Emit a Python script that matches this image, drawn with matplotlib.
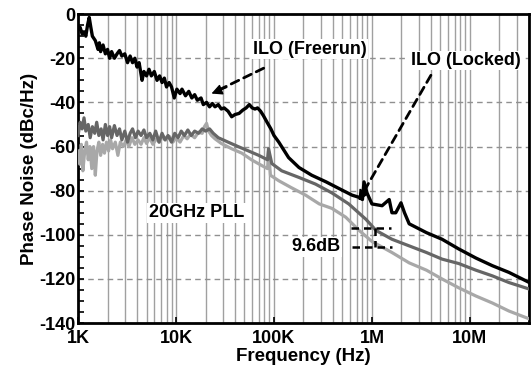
import matplotlib.pyplot as plt
from matplotlib.ticker import MultipleLocator, NullFormatter

plt.rcParams['font.family'] = ['Liberation Sans', 'DejaVu Sans']
plt.rcParams['font.weight'] = 'bold'
plt.rcParams['axes.unicode_minus'] = False

# ILO (Freerun) - black
ilo_f = [1000, 1050, 1100, 1150, 1200, 1250, 1300, 1350, 1400, 1500, 1600, 1650,
         1700, 1800, 1900, 2000, 2100, 2200, 2350, 2500, 2650, 2800, 3000, 3200,
         3400, 3600, 3800, 4000, 4200, 4500, 4700, 5000, 5300, 5600, 6000, 6400,
         6800, 7200, 7600, 8000, 8500, 9000, 9600, 10200, 11000, 11500, 12500,
         13500, 14500, 15500, 16500, 18000, 19000, 20500, 22000, 23500, 25000,
         27000, 29000, 31000, 34000, 37000, 40000, 44000, 48000, 52000, 56000,
         60000, 64000, 68000, 73000, 78000, 85000, 93000, 100e3, 112e3, 141e3,
         180e3, 243e3, 340e3, 460e3, 625e3, 740e3, 800e3, 830e3, 890e3, 1.0e6,
         1.27e6, 1.5e6, 1.6e6, 1.75e6, 1.98e6, 2.15e6, 2.4e6, 3.6e6, 5.2e6,
         7.7e6, 11.5e6, 17e6, 25e6, 40e6]
ilo_db = [-7, -6, -9, -8, -10, -5, -1.5, -6, -10, -12, -16, -13,
          -17, -14, -18, -16, -20, -17, -20, -18, -16.5, -19, -18, -22,
          -19, -22, -20, -24, -22, -30, -26, -28, -25, -28, -26, -30,
          -28, -31, -29, -33, -31, -33, -38, -34, -36, -34, -37,
          -35, -38, -36.5, -39, -38, -41, -40, -42, -40.5, -42,
          -41, -43, -42.5, -44, -46.5, -45.5, -45, -43.5, -42.5, -41,
          -42.5, -43, -42.5, -44, -46, -49, -52, -55, -58, -65,
          -69.5, -73, -76, -79, -82, -83, -84, -76, -81, -86,
          -86.8, -84, -90, -90, -85.5, -90, -95, -99, -102,
          -106.4, -110.5, -114, -117, -121.5]

# 20GHz PLL - dark gray
pll_f = [1000, 1050, 1100, 1150, 1200, 1270, 1330, 1400, 1480, 1550, 1630, 1720,
         1800, 1900, 2000, 2100, 2200, 2350, 2500, 2650, 2800, 3000, 3200, 3400,
         3600, 3850, 4100, 4400, 4700, 5000, 5400, 5800, 6200, 6700, 7200, 7700,
         8300, 9000, 9700, 10500, 11300, 12200, 13200, 14300, 15500, 17000, 18500,
         20000, 22000, 24000, 27000, 34000, 43000, 55000, 70000, 86000, 88000,
         95000, 120e3, 180e3, 265e3, 390e3, 580e3, 870e3, 1.1e6, 1.6e6, 2.4e6,
         3.6e6, 5.2e6, 7.7e6, 11.5e6, 17e6, 25e6, 40e6]
pll_db = [-55, -49, -52, -47, -53, -50, -56, -51, -54, -49, -55, -52,
          -57, -50, -55, -51, -56, -50.5, -55, -52, -57, -53, -58, -54,
          -52, -56, -53, -55, -52.5, -56, -54, -57, -53, -58, -54, -57,
          -55, -58, -54, -56, -53, -55, -52.5, -55, -53, -54, -52,
          -53, -52, -54, -56, -58, -60, -62, -64, -66, -61,
          -67.7, -71, -74, -77, -81, -86, -93, -98, -102, -105,
          -108, -111, -113, -116, -118.6, -121.6, -124.5]

# light gray curve
lg_f = [1000, 1040, 1080, 1120, 1170, 1220, 1270, 1320, 1380, 1440, 1500, 1560,
        1630, 1700, 1780, 1860, 1950, 2050, 2150, 2250, 2400, 2550, 2700, 2900,
        3100, 3300, 3550, 3800, 4100, 4400, 4700, 5000, 5400, 5800, 6300, 6800,
        7300, 7900, 8600, 9300, 10000, 11000, 12000, 13000, 14000, 15500, 17000,
        18500, 19500, 20500, 21500, 23000, 25000, 29000, 37000, 47000, 59000,
        75000, 86000, 88000, 92000, 112e3, 150e3, 210e3, 290e3, 390e3, 540e3,
        740e3, 1.0e6, 1.6e6, 2.4e6, 3.6e6, 5.2e6, 7.7e6, 11.5e6, 17e6, 25e6, 40e6]
lg_db = [-62, -68, -59, -71, -62, -58, -66, -60, -70, -60, -73, -62,
         -58, -64, -59, -63, -58, -62, -57, -61, -58, -64, -58, -60,
         -57, -60, -56, -59, -57, -59, -56, -58.6, -56, -59, -56.5, -58,
         -55, -57, -55.5, -58, -56, -58, -55, -56.5, -54.5, -56, -53.5,
         -54, -51, -49.5, -53, -55, -56.5, -58.6, -61, -63, -66,
         -68.6, -70, -62, -73, -75.5, -78.6, -82, -86, -88, -92,
         -98, -103, -108, -112.7, -116, -120, -124, -127.7, -130.9, -134.5, -138]

xticks = [1e3, 1e4, 1e5, 1e6, 1e7]
xticklabels = ['1K', '10K', '100K', '1M', '10M']
yticks = [0, -20, -40, -60, -80, -100, -120, -140]

fig = plt.figure(figsize=(5.31, 3.71), dpi=100)
ax = fig.add_axes([0.147, 0.129, 0.849, 0.833])

ax.plot(lg_f, lg_db, color='#a8a8a8', lw=2.3, zorder=3)
ax.plot(pll_f, pll_db, color='#666666', lw=2.3, zorder=4)
ax.plot(ilo_f, ilo_db, color='black', lw=2.4, zorder=5)

ax.set_xscale('log')
ax.set_xlim(1e3, 4e7)
ax.set_ylim(-140, 0)
ax.set_xticks(xticks)
ax.set_xticklabels(xticklabels)
ax.set_yticks(yticks)
ax.yaxis.set_minor_locator(MultipleLocator(5))
ax.xaxis.set_minor_formatter(NullFormatter())

ax.grid(True, which='both', axis='x', color='#a0a0a0', lw=1.0, ls='-')
ax.grid(True, which='major', axis='y', color='#909090', lw=1.0, ls=(0, (4, 3)))
ax.set_axisbelow(True)

for s in ax.spines.values():
    s.set_linewidth(2.0)
ax.tick_params(which='both', direction='in', length=4, width=1.2)
ax.tick_params(axis='x', which='minor', length=0)
ax.tick_params(axis='y', labelsize=13, pad=2)
ax.tick_params(axis='x', labelsize=13, pad=5)
for lab in ax.get_xticklabels() + ax.get_yticklabels():
    lab.set_fontweight('bold')

ax.set_xlabel('Frequency (Hz)', fontsize=13.5, fontweight='bold', labelpad=1)
ax.set_ylabel('Phase Noise (dBc/Hz)', fontsize=13.5, fontweight='bold', labelpad=1)

box = dict(facecolor='white', edgecolor='none', pad=1)
ax.text(2.3e5, -16, 'ILO (Freerun)', fontsize=13, fontweight='bold',
        ha='center', va='center', bbox=box, zorder=6)
ax.text(9.0e6, -21, 'ILO (Locked)', fontsize=13, fontweight='bold',
        ha='center', va='center', bbox=box, zorder=6)
ax.text(1.62e4, -90, '20GHz PLL', fontsize=13, fontweight='bold',
        ha='center', va='center', bbox=box, zorder=6)
ax.text(2.68e5, -105.5, '9.6dB', fontsize=13, fontweight='bold',
        ha='center', va='center', bbox=box, zorder=6)

# dashed shafts with solid arrowheads
shaft = dict(arrowstyle='-', color='black', lw=2.0, ls=(0, (3, 2)),
             shrinkA=0, shrinkB=8)
head = dict(arrowstyle='-|>', color='black', lw=1.0, mutation_scale=16,
            shrinkA=0, shrinkB=0)
for tip, tail, mid in [((2.3e4, -36), (7.85e4, -24.5), (3.3e4, -33.2)),
                       ((7.3e5, -84.5), (4.0e6, -27.7), (9.2e5, -77))]:
    ax.annotate('', xy=tip, xytext=tail, arrowprops=shaft, zorder=7)
    ax.annotate('', xy=tip, xytext=mid, arrowprops=head, zorder=7)

ax.plot([6.1e5, 1.58e6], [-96.8, -96.8], color='black', lw=1.8,
        ls=(0, (3, 2)), zorder=7)
ax.plot([6.2e5, 1.62e6], [-105.5, -105.5], color='black', lw=1.8,
        ls=(0, (3, 2)), zorder=7)
ax.plot([1.08e6, 1.08e6], [-96.8, -105.5], color='black', lw=1.8,
        ls=(0, (3, 2)), zorder=7)

fig.savefig('out.png', dpi=100)
